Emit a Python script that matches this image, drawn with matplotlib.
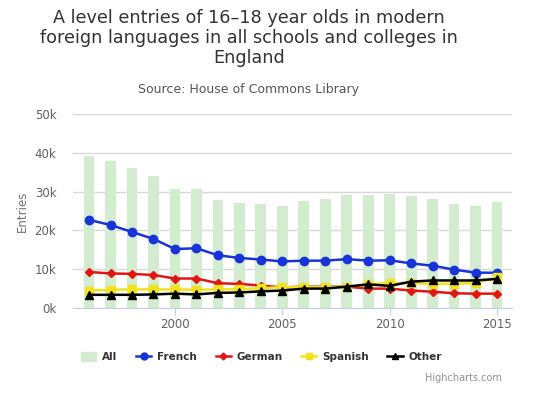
import matplotlib
matplotlib.use('Agg')
import matplotlib.pyplot as plt
from matplotlib.lines import Line2D
from matplotlib.patches import Patch
from matplotlib.ticker import FuncFormatter

years = list(range(1996, 2016))
all_entries = [39.2, 37.9, 36.1, 34.1, 30.6, 30.7, 27.8, 27.1, 26.7, 26.4,
               27.6, 28.2, 29.1, 29.1, 29.4, 28.9, 28.1, 26.9, 26.2, 27.3]
french = [22.7, 21.4, 19.6, 17.8, 15.2, 15.4, 13.6, 12.9, 12.5, 12.0,
          12.2, 12.2, 12.6, 12.2, 12.3, 11.5, 10.9, 9.9, 9.1, 9.1]
german = [9.3, 8.9, 8.8, 8.5, 7.6, 7.6, 6.4, 6.2, 5.8, 5.3,
          5.5, 5.5, 5.5, 5.0, 5.0, 4.5, 4.2, 3.8, 3.7, 3.7]
spanish = [4.5, 4.7, 4.8, 4.8, 4.8, 4.7, 4.8, 4.9, 5.1, 5.4,
           5.4, 5.4, 5.5, 6.1, 6.5, 6.4, 6.2, 6.3, 6.4, 7.9]
other = [3.4, 3.4, 3.4, 3.5, 3.7, 3.5, 3.9, 4.0, 4.3, 4.5,
         5.0, 5.0, 5.5, 6.1, 5.7, 6.8, 7.1, 7.1, 7.1, 7.5]

# values in thousands
all_v = [v * 1000 for v in all_entries]
fr_v = [v * 1000 for v in french]
de_v = [v * 1000 for v in german]
es_v = [v * 1000 for v in spanish]
ot_v = [v * 1000 for v in other]

fig = plt.figure(figsize=(5.5, 3.96), dpi=100)
ax = fig.add_axes([0.1327, 0.2222, 0.7983, 0.4899])

green = '#d3ebcf'
blue = '#1733d9'
red = '#e31414'
yellow = '#f2e21c'

ax.bar(years, all_v, width=0.5, color=green, zorder=1)
ax.plot(years, fr_v, color=blue, lw=1.8, marker='o', ms=6, zorder=3)
ax.plot(years, de_v, color=red, lw=1.8, marker='D', ms=4, zorder=4)
ax.plot(years, es_v, color=yellow, lw=1.8, marker='s', ms=5.5, zorder=5)
ax.plot(years, ot_v, color='black', lw=1.8, marker='^', ms=5.5, zorder=6)

ax.set_xlim(1995.25, 2015.7)
ax.set_ylim(0, 50000)
ax.set_yticks(range(0, 50001, 10000))
ax.yaxis.set_major_formatter(FuncFormatter(lambda v, p: '%dk' % (v / 1000)))
ax.set_xticks([2000, 2005, 2010, 2015])

ax.grid(axis='y', color='#d8d8d8', lw=1)
ax.set_axisbelow(True)
for s in ['top', 'right', 'left']:
    ax.spines[s].set_visible(False)
ax.spines['bottom'].set_color('#c0d0e0')
ax.tick_params(axis='y', length=0, colors='#606060', labelsize=8.5, pad=12)
ax.tick_params(axis='x', length=5, color='#c0d0e0', colors='#606060', labelsize=8.5, pad=2)
ax.set_ylabel('Entries', color='#707070', fontsize=8.5, labelpad=4)

fig.text(0.453, 0.978, 'A level entries of 16\u201318 year olds in modern\n'
         'foreign languages in all schools and colleges in\nEngland',
         ha='center', va='top', fontsize=12.7, color='#333333', linespacing=1.15)
fig.text(0.452, 0.775, 'Source: House of Commons Library', ha='center', va='center',
         fontsize=9, color='#555555')

handles = [
    Patch(color=green),
    Line2D([], [], color=blue, lw=1.8, marker='o', ms=5),
    Line2D([], [], color=red, lw=1.8, marker='D', ms=3.5),
    Line2D([], [], color=yellow, lw=1.8, marker='s', ms=5),
    Line2D([], [], color='black', lw=1.8, marker='^', ms=5),
]
labels = ['All', 'French', 'German', 'Spanish', 'Other']
leg = fig.legend(handles, labels, loc='center', bbox_to_anchor=(0.4755, 0.098), ncol=5,
                 frameon=False, handlelength=1.45, handleheight=1.0, handletextpad=0.55,
                 columnspacing=1.8, prop={'weight': 'bold', 'size': 7.5})
for t in leg.get_texts():
    t.set_color('#333333')

fig.text(0.912, 0.045, 'Highcharts.com', ha='right', va='center', fontsize=7, color='#909090')

fig.savefig('out.png', dpi=100)
